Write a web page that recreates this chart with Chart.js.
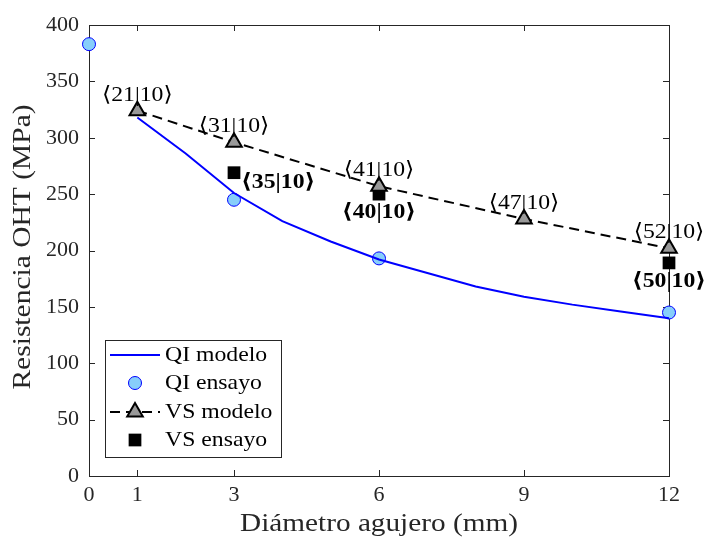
<!DOCTYPE html>
<html><head><meta charset="utf-8">
<script src="https://cdn.jsdelivr.net/npm/chart.js@4/dist/chart.umd.min.js"></script>
<style>html,body{margin:0;padding:0;background:#fff}#wrap{width:707px;height:540px}</style>
</head><body><div id="wrap"><canvas id="c" width="707" height="540"></canvas></div>
<script>
// ---- data ----
const xTicks = [0, 1, 3, 6, 9, 12];
const yTicks = [0, 50, 100, 150, 200, 250, 300, 350, 400];
const qiModeloX = [1, 2, 3, 4, 5, 6, 7, 8, 9, 10, 11, 12];
const qiModelo = [318, 286, 251, 226, 208, 192, 180, 168, 159, 152, 146, 140];
const qiEnsayoX = [0, 3, 6, 12];
const qiEnsayo = [383, 245, 193, 145];
const vsModeloX = [1, 3, 6, 9, 12];
const vsModelo = [324, 296, 257, 228, 202];
const vsModeloLabels = ['⟨21|10⟩', '⟨31|10⟩', '⟨41|10⟩', '⟨47|10⟩', '⟨52|10⟩'];
const vsEnsayoX = [3, 6, 12];
const vsEnsayo = [269, 250, 189];
const vsEnsayoLabels = ['⟨35|10⟩', '⟨40|10⟩', '⟨50|10⟩'];
const seriesNames = ['QI modelo', 'QI ensayo', 'VS modelo', 'VS ensayo'];
const xTitle = 'Diámetro agujero (mm)';
const yTitle = 'Resistencia OHT (MPa)';

const FONT = '"Liberation Serif", "DejaVu Serif", serif';
const AX = '#262626';
const pts = (xs, ys) => xs.map((x, i) => ({x: x, y: ys[i]}));

function stretchText(ctx, text, x, y, align, baseline, font, sx) {
  ctx.save();
  ctx.font = font;
  ctx.textAlign = align; ctx.textBaseline = baseline;
  ctx.translate(x, y);
  ctx.scale(sx, 1);
  ctx.fillText(text, 0, 0);
  ctx.restore();
}

const framePlugin = {
  id: 'frame',
  beforeDatasetsDraw(chart) {
    const {ctx, chartArea: a, scales: {x, y}} = chart;
    ctx.save();
    ctx.strokeStyle = AX; ctx.lineWidth = 1;
    ctx.strokeRect(Math.round(a.left) + 0.5, Math.round(a.top) + 0.5, Math.round(a.right - a.left), Math.round(a.bottom - a.top));
    ctx.beginPath();
    const L = 6;
    xTicks.forEach(v => {
      const px = Math.round(x.getPixelForValue(v)) + 0.5;
      ctx.moveTo(px, a.bottom); ctx.lineTo(px, a.bottom - L);
      ctx.moveTo(px, a.top); ctx.lineTo(px, a.top + L);
    });
    yTicks.forEach(v => {
      const py = Math.round(y.getPixelForValue(v)) + 0.5;
      ctx.moveTo(a.left, py); ctx.lineTo(a.left + L, py);
      ctx.moveTo(a.right, py); ctx.lineTo(a.right - L, py);
    });
    ctx.stroke();
    ctx.restore();
  },
  afterDraw(chart) {
    const {ctx, chartArea: a, scales: {x, y}} = chart;
    ctx.save();
    ctx.fillStyle = '#000';
    const S = 1.13;
    vsModeloX.forEach((v, i) => {
      stretchText(ctx, vsModeloLabels[i], x.getPixelForValue(v), y.getPixelForValue(vsModelo[i]) - 5,
        'center', 'bottom', '21px ' + FONT, S);
    });
    vsEnsayoX.forEach((v, i) => {
      const px = x.getPixelForValue(v), py = y.getPixelForValue(vsEnsayo[i]);
      if (i === 0) {
        stretchText(ctx, vsEnsayoLabels[i], px + 7, py + 10, 'left', 'middle', 'bold 21px ' + FONT, S);
      } else {
        stretchText(ctx, vsEnsayoLabels[i], px, py + 8, 'center', 'top', 'bold 21px ' + FONT, S);
      }
    });
    // axis titles
    ctx.fillStyle = AX;
    stretchText(ctx, xTitle, (a.left + a.right) / 2, 524, 'center', 'middle', '25px ' + FONT, 1.17);
    ctx.save();
    ctx.translate(23, 247);
    ctx.rotate(-Math.PI / 2);
    stretchText(ctx, yTitle, 0, 0, 'center', 'middle', '25px ' + FONT, 1.18);
    ctx.restore();
    // legend
    const bx = 105, by = 340, bw = 176, bh = 117;
    ctx.fillStyle = '#fff';
    ctx.fillRect(bx, by, bw, bh);
    ctx.strokeStyle = AX; ctx.lineWidth = 1;
    ctx.strokeRect(bx + 0.5, by + 0.5, bw, bh);
    const rowY = [355, 383, 412, 440];
    chart.data.datasets.forEach((d, i) => {
      const ry = rowY[i];
      const x0 = 110, x1 = 160, cx = 135;
      if (d.showLine) {
        ctx.save();
        ctx.strokeStyle = d.borderColor; ctx.lineWidth = d.borderWidth;
        ctx.setLineDash(d.borderDash || []);
        ctx.beginPath(); ctx.moveTo(x0, ry); ctx.lineTo(x1, ry); ctx.stroke();
        ctx.restore();
      }
      if (d.pointRadius > 0) {
        ctx.save();
        ctx.fillStyle = d.pointBackgroundColor; ctx.strokeStyle = d.pointBorderColor;
        ctx.lineWidth = d.pointBorderWidth;
        Chart.helpers.drawPoint(ctx, {pointStyle: d.pointStyle, radius: d.pointRadius, borderWidth: d.pointBorderWidth}, cx, ry);
        ctx.restore();
      }
      ctx.fillStyle = '#000';
      stretchText(ctx, d.label, 165, ry, 'left', 'middle', '21px ' + FONT, 1.13);
    });
    ctx.restore();
  }
};

new Chart(document.getElementById('c'), {
  type: 'scatter',
  data: {
    datasets: [
      {label: seriesNames[0], data: pts(qiModeloX, qiModelo), showLine: true, borderColor: '#0000ff', borderWidth: 2, pointRadius: 0, pointHoverRadius: 0, tension: 0, clip: false},
      {label: seriesNames[1], data: pts(qiEnsayoX, qiEnsayo), showLine: false, pointStyle: 'circle', pointRadius: 6.5, pointBackgroundColor: '#87cefa', pointBorderColor: '#0000ff', pointBorderWidth: 1, clip: false},
      {label: seriesNames[2], data: pts(vsModeloX, vsModelo), showLine: true, borderColor: '#000', borderWidth: 2, borderDash: [10, 6], tension: 0, pointStyle: 'triangle', pointRadius: 9, pointBackgroundColor: '#999999', pointBorderColor: '#000', pointBorderWidth: 2, clip: false},
      {label: seriesNames[3], data: pts(vsEnsayoX, vsEnsayo), showLine: false, pointStyle: 'rect', pointRadius: 9, pointBackgroundColor: '#000', pointBorderColor: '#000', pointBorderWidth: 0, clip: false}
    ]
  },
  options: {
    responsive: false, animation: false,
    layout: {padding: {left: 0, right: 38, top: 25, bottom: 0}},
    plugins: {legend: {display: false}, tooltip: {enabled: false}},
    scales: {
      x: {
        type: 'linear', min: 0, max: 12,
        afterBuildTicks: s => { s.ticks = xTicks.map(v => ({value: v})); },
        afterFit: s => { s.height = 64; },
        grid: {display: false, drawTicks: false}, border: {display: false},
        ticks: {color: AX, font: {family: FONT, size: 22}, padding: 6, maxRotation: 0, autoSkip: false}
      },
      y: {
        type: 'linear', min: 0, max: 400,
        afterBuildTicks: s => { s.ticks = yTicks.map(v => ({value: v})); },
        afterFit: s => { s.width = 89; },
        grid: {display: false, drawTicks: false}, border: {display: false},
        ticks: {color: AX, font: {family: FONT, size: 22}, padding: 10, autoSkip: false}
      }
    }
  },
  plugins: [framePlugin]
});
</script></body></html>
